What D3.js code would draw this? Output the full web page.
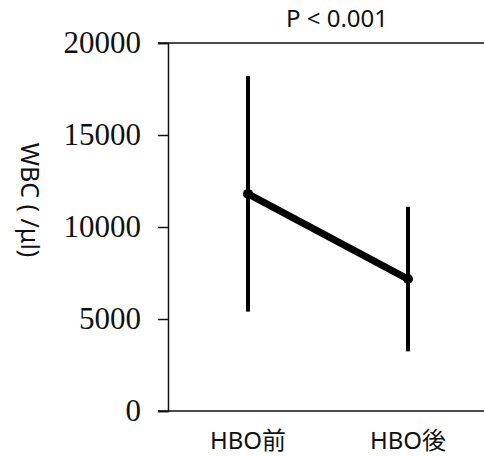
<!DOCTYPE html>
<html>
<head>
<meta charset="utf-8">
<script src="https://cdn.jsdelivr.net/npm/d3@7"></script>
<style>
  body { margin: 0; background: #fff; }
  svg { display: block; }
</style>
</head>
<body>
<div id="chart"></div>
<script>
// data
const groups = ['HBO前', 'HBO後'];
const means = [11800, 7170];
const sds = [6400, 3930];
const yTicks = [0, 5000, 10000, 15000, 20000];
const pText = 'P < 0.001';
const yLabel = 'WBC ( /μl)';

document.addEventListener('DOMContentLoaded', function(){
  drawChart();
});

function drawChart() {
  const width = 484, height = 456;
  const margin = {left: 168, top: 43, right: -4, bottom: 45};

  const svg = d3.select('#chart').append('svg')
    .attr('width', width)
    .attr('height', height);

  const x = d3.scaleBand()
    .domain(groups)
    .range([margin.left, width - margin.right])
    .padding(0);

  const y = d3.scaleLinear()
    .domain([0, 20000])
    .range([height - margin.bottom, margin.top]);

  const sans = "'Noto Sans', 'Noto Sans CJK JP', sans-serif";

  // y axis
  const yAxis = d3.axisLeft(y)
    .tickValues(yTicks)
    .tickSize(10)
    .tickPadding(17)
    .tickFormat(d3.format('d'));

  const gy = svg.append('g')
    .attr('transform', 'translate(' + margin.left + ',0)')
    .call(yAxis);
  gy.select('.domain').attr('stroke', '#111').attr('stroke-width', 1.5);
  gy.selectAll('.tick line').attr('stroke', '#111').attr('stroke-width', 1.5);
  gy.selectAll('.tick text')
    .attr('fill', '#111')
    .style('font-family', "'Liberation Serif', 'DejaVu Serif', serif")
    .style('font-size', '31px');

  // top and bottom lines
  [0, 20000].forEach(function(v) {
    svg.append('line')
      .attr('x1', margin.left - 10).attr('x2', width)
      .attr('y1', y(v)).attr('y2', y(v))
      .attr('stroke', '#111')
      .attr('stroke-width', 1.5);
  });

  // x labels
  svg.selectAll('.xlab')
    .data(groups)
    .enter().append('text')
    .attr('class', 'xlab')
    .attr('x', d => x(d) + x.bandwidth() / 2)
    .attr('y', 449)
    .attr('text-anchor', 'middle')
    .style('font-family', sans)
    .style('font-size', '24px')
    .attr('fill', '#111')
    .text(d => d);

  // y label (rotated clockwise)
  svg.append('text')
    .attr('transform', 'translate(21,200) rotate(90)')
    .attr('text-anchor', 'middle')
    .style('font-family', sans)
    .style('font-size', '25px')
    .attr('fill', '#111')
    .text(yLabel);

  // title
  svg.append('text')
    .attr('x', 337)
    .attr('y', 27)
    .attr('text-anchor', 'middle')
    .style('font-family', sans)
    .style('font-size', '24px')
    .attr('fill', '#111')
    .text(pText);

  const cx = d => x(d) + x.bandwidth() / 2;

  // error bars
  svg.selectAll('.err')
    .data(groups)
    .enter().append('line')
    .attr('class', 'err')
    .attr('x1', cx).attr('x2', cx)
    .attr('y1', (d, i) => y(means[i] + sds[i]))
    .attr('y2', (d, i) => y(means[i] - sds[i]))
    .attr('stroke', '#000')
    .attr('stroke-width', 4);

  // mean line
  const line = d3.line()
    .x(d => cx(d))
    .y((d, i) => y(means[i]));
  svg.append('path')
    .datum(groups)
    .attr('d', line)
    .attr('fill', 'none')
    .attr('stroke', '#000')
    .attr('stroke-width', 7);

  svg.selectAll('.dot')
    .data(groups)
    .enter().append('circle')
    .attr('class', 'dot')
    .attr('cx', cx)
    .attr('cy', (d, i) => y(means[i]))
    .attr('r', 5)
    .attr('fill', '#000');
}
</script>
</body>
</html>
